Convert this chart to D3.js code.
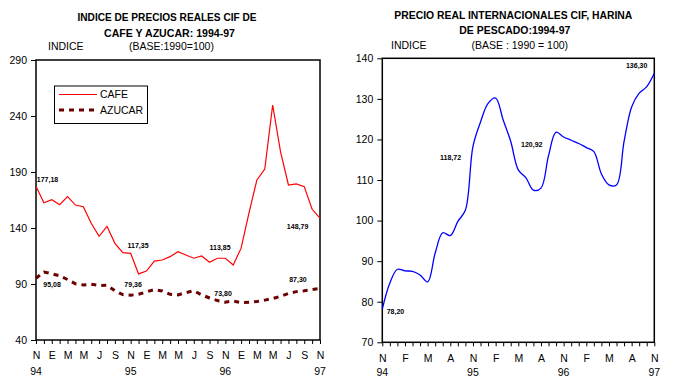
<html>
<head>
<script src="https://d3js.org/d3.v7.min.js"></script>
<style>
	body {margin: 0; background: #fff;}
	svg text {font-family: Arial, "Liberation Sans", sans-serif; fill: #000;}
	.ttl {font-weight: bold; font-size: 11px;}
	.sub {font-size: 10.5px;}
	.note {font-size: 7px; font-weight: bold;}
	.tick text {font-size: 10.5px;}
</style>
</head>
<body>
<svg id="chart" width="677" height="388"></svg>
<script>
// monthly series, Nov 94 .. Nov 97 (37 months)
const cafe = [177.2, 162.6, 165.3, 160.8, 168, 160.5, 159, 144.2, 132.6, 141.5, 126.3, 118, 117.35,
	99, 101.6, 110.5, 111.4, 114.4, 118.9, 115.9, 113, 115, 109.4, 113, 113, 107,
	122, 153.4, 182.9, 192.7, 249.8, 208, 178.4, 179.3, 176.9, 156.7, 148.8];
const azucar = [95.1, 100.7, 99.2, 97.3, 94, 90.2, 89.2, 89.8, 88.7, 88.9, 84, 80.5, 80,
	80.8, 83, 85, 83.8, 80.8, 80.3, 82.3, 84, 80.3, 77.5, 75.2, 73.8, 74.8,
	73.4, 73.6, 74.4, 75.6, 77, 79, 81.6, 83.2, 84, 85, 86];
const harina = [78.2, 84.6, 88, 87.6, 87.5, 86.6, 84.9, 92, 97, 96.3, 99.8, 102.6, 118.3,
	124.3, 128.9, 130.2, 124.8, 119.5, 112.5, 110.6, 107.5, 108, 116, 121.8, 120.6, 119.8,
	119, 118, 117, 111.5, 108.8, 108.8, 119.5, 128, 131.4, 133, 136.3];

const leftTickLabels = ["N","E","M","M","J","S","N","E","M","M","J","S","N","E","M","M","J","S","N"];
const rightTickLabels = ["N","F","M","A","N","F","M","A","N","F","M","A","N"];
const yearLabels = ["94","95","96","97"];
const leftYTicks = [40, 90, 140, 190, 240, 290];
const rightYTicks = [70, 80, 90, 100, 110, 120, 130, 140];

// value labels: [text, month index, value]
const leftNotes = [["177,18", 0.1, 181], ["117,35", 11.6, 121.7], ["113,85", 22, 120.8], ["148,79", 31.8, 139.1],
	["95,08", 0.93, 86.9], ["79,36", 11.2, 87.3], ["73,80", 22.6, 79.7], ["87,30", 32.1, 92.2]];
const rightNotes = [["136,30", 32.25, 137.6], ["118,72", 7.64, 114.9], ["120,92", 18.36, 118.1], ["78,20", 0.58, 76.9]];

const svg = d3.select("#chart");

function panel(o) {
	var x = d3.scaleLinear().domain([0, 36]).range([o.x0, o.x1]);
	var y = d3.scaleLinear().domain(o.ydomain).range([o.y1, o.y0]);
	var g = svg.append("g");

	// y axis
	var ya = g.append("g").attr("transform", "translate(" + o.x0 + ",0)")
		.call(d3.axisLeft(y).tickValues(o.yticks).tickSize(5).tickPadding(4));
	ya.select(".domain").remove();

	// x axis: month ticks
	var step = 36 / (o.xlabels.length - 1);
	var xa = g.append("g").attr("transform", "translate(0," + o.y1 + ")")
		.call(d3.axisBottom(x).tickValues(d3.range(37)).tickSize(4).tickPadding(o.xpad)
			.tickFormat(function(i) { return i % step == 0 ? o.xlabels[i / step] : ""; }));
	xa.select(".domain").remove();
	g.selectAll(".tick line").attr("stroke", "#000");

	g.selectAll(".yr").data(yearLabels).enter().append("text")
		.attr("class", "sub")
		.attr("x", function(d, i) { return x(i * 12); })
		.attr("y", o.yearY)
		.attr("text-anchor", "middle")
		.text(function(d) { return d; });

	// frame
	g.append("rect")
		.attr("x", o.x0).attr("y", o.y0)
		.attr("width", o.x1 - o.x0).attr("height", o.y1 - o.y0)
		.attr("fill", "none").attr("stroke", "#000").attr("stroke-width", 1.5);

	// titles
	o.titles.forEach(function(t) {
		g.append("text").attr("class", "ttl")
			.attr("x", t[1]).attr("y", t[2])
			.attr("textLength", t[3]).attr("lengthAdjust", "spacingAndGlyphs")
			.text(t[0]);
	});
	o.subs.forEach(function(t) {
		g.append("text").attr("class", "sub").attr("x", t[1]).attr("y", t[2]).text(t[0]);
	});

	g.selectAll(".note").data(o.notes).enter().append("text")
		.attr("class", "note")
		.attr("x", function(d) { return x(d[1]); })
		.attr("y", function(d) { return y(d[2]); })
		.text(function(d) { return d[0]; });

	return {g: g, x: x, y: y};
}

// left panel
var L = panel({
	x0: 36, x1: 320, y0: 60, y1: 340, ydomain: [40, 290], yticks: leftYTicks,
	xlabels: leftTickLabels, xpad: 8, yearY: 374.5, notes: leftNotes,
	titles: [["INDICE DE PRECIOS REALES CIF DE", 77.5, 20.5, 179], ["CAFE Y AZUCAR: 1994-97", 104, 36.5, 131]],
	subs: [["INDICE", 48, 50], ["(BASE:1990=100)", 129, 50]]
});

var lineL = d3.line().x(function(d, i) { return L.x(i); }).y(function(d) { return L.y(d); });

L.g.append("path").datum(azucar)
	.attr("d", lineL)
	.attr("fill", "none").attr("stroke", "#6b0000").attr("stroke-width", 3)
	.attr("stroke-dasharray", "5,5");
L.g.append("path").datum(cafe)
	.attr("d", lineL)
	.attr("fill", "none").attr("stroke", "#ff0000").attr("stroke-width", 1.2);

// legend
var lg = L.g.append("g");
lg.append("rect").attr("x", 54.5).attr("y", 86).attr("width", 93).attr("height", 37.5)
	.attr("fill", "#fff").attr("stroke", "#000").attr("stroke-width", 1);
lg.append("line").attr("x1", 59).attr("x2", 97).attr("y1", 94.5).attr("y2", 94.5)
	.attr("stroke", "#ff0000").attr("stroke-width", 1.2);
lg.append("line").attr("x1", 59).attr("x2", 97).attr("y1", 110).attr("y2", 110)
	.attr("stroke", "#6b0000").attr("stroke-width", 3).attr("stroke-dasharray", "5,5");
lg.append("text").attr("class", "sub").attr("x", 100).attr("y", 98.3).text("CAFE");
lg.append("text").attr("class", "sub").attr("x", 100).attr("y", 114).text("AZUCAR");

// right panel
var R = panel({
	x0: 382.3, x1: 654.3, y0: 58.3, y1: 342.3, ydomain: [70, 140], yticks: rightYTicks,
	xlabels: rightTickLabels, xpad: 8, yearY: 376, notes: rightNotes,
	titles: [["PRECIO REAL INTERNACIONALES CIF, HARINA", 394.3, 18.5, 238], ["DE PESCADO:1994-97", 459.3, 34, 111]],
	subs: [["INDICE", 391, 49], ["(BASE : 1990 = 100)", 471.5, 49]]
});

R.g.append("path").datum(harina)
	.attr("d", d3.line().curve(d3.curveCatmullRom.alpha(0.5))
		.x(function(d, i) { return R.x(i); }).y(function(d) { return R.y(d); }))
	.attr("fill", "none").attr("stroke", "#0000ff").attr("stroke-width", 1.3);
</script>
</body>
</html>
